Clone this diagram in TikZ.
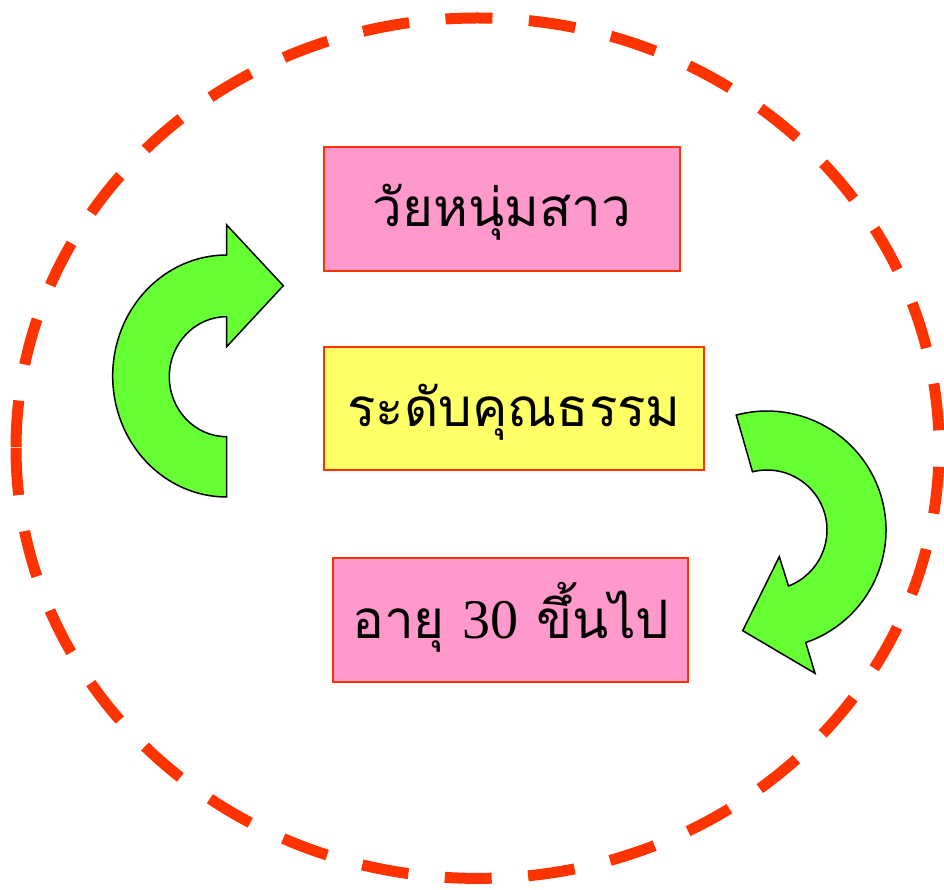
\documentclass[tikz,border=0pt]{standalone}
\usepackage{fontspec}
\newfontfamily\thaifont[Script=Thai]{Loma}
\newfontfamily\numfont{Liberation Serif}
\definecolor{dashred}{HTML}{FF3300}
\definecolor{boxpink}{HTML}{FF99CC}
\definecolor{boxyellow}{HTML}{FFFF66}
\definecolor{arrowgreen}{HTML}{66FF33}
\begin{document}
\begin{tikzpicture}[x=1pt,y=1pt,
  stagebox/.style={draw=dashred, line width=2pt, minimum height=123.4pt, inner sep=0pt,
    text height=36pt, text depth=0pt, font=\thaifont\fontsize{53}{53}\selectfont},
  turnarrow/.style={draw=black, line width=1.5pt, fill=arrowgreen, line join=miter}]
\useasboundingbox (0,0) rectangle (944,889);
% dashed ellipse
\draw[dashred, line width=11pt, dash pattern=on 47pt off 36.48pt]
  (16,440.8) arc[start angle=180, end angle=540, x radius=461.5pt, y radius=430.2pt];
% boxes
\node[stagebox, fill=boxpink, minimum width=356pt] (young) at (502,680) {วัยหนุ่มสาว};
\node[stagebox, fill=boxyellow, minimum width=380pt] (virtue) at (514,480.7) {ระดับคุณธรรม};
\node[stagebox, fill=boxpink, minimum width=355pt] (adult) at (510.8,269)
  {อายุ {\numfont\fontsize{56}{56}\selectfont 30} ขึ้นไป};
% left curved arrow
\draw[turnarrow] (226.7,392) arc[start angle=270, end angle=90, x radius=114pt, y radius=121pt]
  -- (226.7,664) -- (283.3,603.3) -- (226.7,542.3) -- (226.7,572.3)
  arc[start angle=90, end angle=270, x radius=57.4pt, y radius=60pt] -- cycle;
% right curved arrow
\draw[turnarrow] (736.2,473.9) arc[start angle=105, end angle=-71, radius=119pt]
  -- (815,215.7) -- (742.7,258.3) -- (779.3,332.3) -- (788.5,303)
  arc[start angle=-69, end angle=104, radius=60pt] -- cycle;
\end{tikzpicture}
\end{document}
